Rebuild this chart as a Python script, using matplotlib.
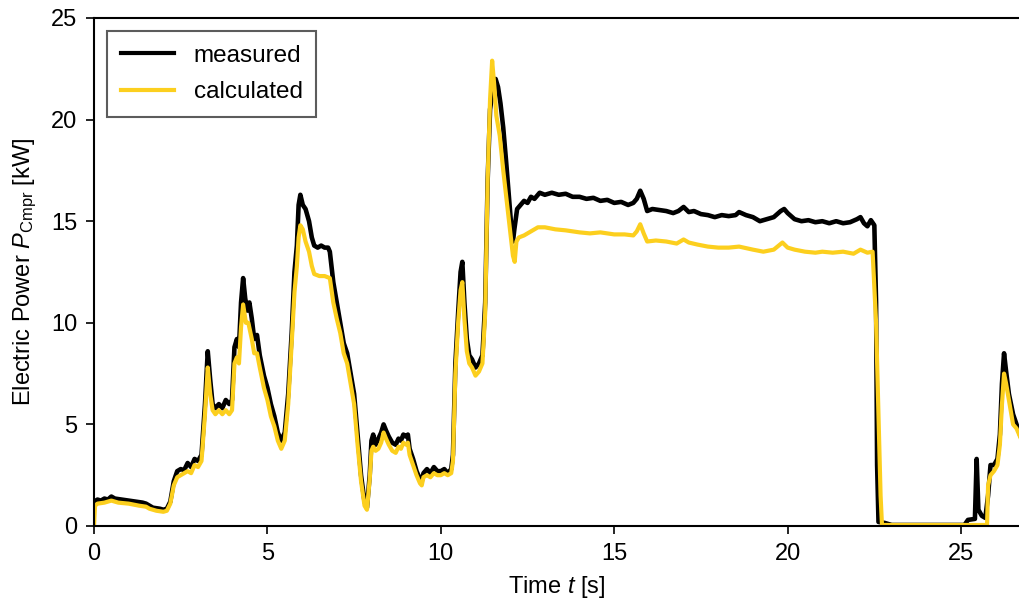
import matplotlib
matplotlib.use("Agg")
import matplotlib.pyplot as plt
import numpy as np

plt.rcParams['font.family'] = ['Liberation Sans', 'DejaVu Sans']
plt.rcParams['mathtext.fontset'] = 'custom'
plt.rcParams['mathtext.rm'] = 'Liberation Sans'
plt.rcParams['mathtext.it'] = 'Liberation Sans:italic'

# measured compressor power
t_meas = [0.0, 0.1, 0.2, 0.3, 0.4, 0.5, 0.6, 0.8, 1.0, 1.2, 1.4, 1.5, 1.6, 1.7, 1.9, 2.0,
          2.1, 2.2, 2.3, 2.4, 2.5, 2.6, 2.7, 2.8, 2.9, 3.0, 3.1, 3.2, 3.28, 3.35, 3.42, 3.5,
          3.6, 3.7, 3.8, 3.9, 3.98, 4.05, 4.12, 4.18, 4.24, 4.3, 4.36, 4.42, 4.48, 4.55, 4.62,
          4.7, 4.78, 4.9, 5.0, 5.1, 5.2, 5.3, 5.4, 5.5, 5.6, 5.7, 5.78, 5.85, 5.9, 5.95, 6.02,
          6.1, 6.2, 6.28, 6.35, 6.45, 6.55, 6.65, 6.75, 6.8, 6.9, 7.0, 7.1, 7.2, 7.3, 7.4, 7.5,
          7.6, 7.7, 7.8, 7.87, 7.95, 8.0, 8.05, 8.12, 8.2, 8.28, 8.35, 8.42, 8.5, 8.6, 8.7,
          8.78, 8.85, 8.92, 9.0, 9.05, 9.1, 9.2, 9.3, 9.4, 9.45, 9.5, 9.6, 9.7, 9.8, 9.9, 10.0,
          10.1, 10.2, 10.3, 10.35, 10.42, 10.5, 10.57, 10.62, 10.68, 10.75, 10.82, 10.9, 11.0,
          11.1, 11.2, 11.28, 11.35, 11.42, 11.5, 11.58, 11.65, 11.72, 11.8, 11.88, 11.95,
          12.02, 12.08, 12.12, 12.2, 12.3, 12.4, 12.5, 12.6, 12.7, 12.85, 13.0, 13.2, 13.4,
          13.6, 13.8, 14.0, 14.2, 14.4, 14.6, 14.8, 15.0, 15.2, 15.4, 15.55, 15.65, 15.75,
          15.85, 15.95, 16.1, 16.3, 16.5, 16.7, 16.85, 17.0, 17.15, 17.3, 17.5, 17.7, 17.9,
          18.1, 18.3, 18.5, 18.6, 18.8, 19.0, 19.2, 19.4, 19.6, 19.8, 19.9, 20.0, 20.2, 20.4,
          20.6, 20.8, 21.0, 21.2, 21.4, 21.6, 21.8, 22.0, 22.1, 22.2, 22.3, 22.4, 22.5, 22.55,
          22.58, 22.62, 22.8, 23.0, 24.0, 25.1, 25.2, 25.4, 25.45, 25.5, 25.6, 25.7, 25.78,
          25.85, 25.95, 26.05, 26.12, 26.18, 26.24, 26.3, 26.38, 26.5, 26.6, 26.7]
p_meas = [1.2, 1.3, 1.25, 1.35, 1.3, 1.45, 1.35, 1.3, 1.25, 1.2, 1.15, 1.1, 1.0, 0.9, 0.85, 0.8,
          0.85, 1.2, 2.2, 2.7, 2.8, 2.75, 3.1, 2.9, 3.3, 3.2, 3.5, 6.0, 8.6, 7.2, 6.0, 5.8,
          6.0, 5.8, 6.2, 6.0, 6.2, 8.8, 9.2, 8.8, 11.0, 12.2, 11.2, 10.6, 11.0, 10.2, 9.2,
          9.4, 8.4, 7.4, 6.8, 6.0, 5.4, 4.6, 4.2, 4.6, 6.5, 9.5, 12.5, 13.8, 15.8, 16.3, 15.8,
          15.6, 15.0, 14.2, 13.8, 13.7, 13.8, 13.7, 13.7, 13.5, 12.0, 11.0, 10.0, 9.0, 8.5, 7.5, 6.5,
          4.5, 2.5, 1.2, 0.9, 2.5, 4.2, 4.5, 4.0, 4.3, 4.6, 5.0, 4.7, 4.4, 4.1, 4.0,
          4.3, 4.2, 4.5, 4.4, 4.5, 3.8, 3.3, 2.7, 2.3, 2.2, 2.6, 2.8, 2.6, 2.9, 2.7, 2.7,
          2.8, 2.6, 2.8, 3.5, 8.0, 10.5, 12.5, 13.0, 11.0, 9.2, 8.4, 8.2, 7.8,
          8.0, 8.4, 11.0, 17.0, 20.5, 21.5, 22.0, 21.6, 20.8, 19.6, 18.0, 16.5,
          15.0, 14.0, 14.6, 15.6, 15.8, 16.0, 15.9, 16.2, 16.1, 16.4, 16.3, 16.4, 16.3,
          16.35, 16.2, 16.2, 16.1, 16.15, 16.0, 16.05, 15.9, 15.95, 15.8, 15.9, 16.1, 16.5,
          16.1, 15.5, 15.6, 15.55, 15.5, 15.4, 15.5, 15.7, 15.45, 15.5, 15.35, 15.3, 15.2,
          15.3, 15.25, 15.3, 15.45, 15.3, 15.2, 15.0, 15.1, 15.2, 15.5, 15.6, 15.4, 15.1, 15.0,
          15.05, 14.95, 15.0, 14.9, 15.0, 14.9, 14.95, 15.1, 15.2, 14.9, 14.75, 15.05, 14.8, 11.0,
          3.0, 0.2, 0.15, 0.05, 0.05, 0.05, 0.3, 0.35, 3.3, 0.8, 0.5, 0.4, 1.5,
          3.0, 3.0, 3.3, 4.5, 7.0, 8.5, 7.6, 6.5, 5.5, 5.0, 4.5]

# calculated compressor power
t_calc = [0.0, 0.03, 0.1, 0.3, 0.5, 0.7, 1.0, 1.3, 1.5, 1.6, 1.8, 2.0, 2.1, 2.2, 2.3, 2.4,
          2.5, 2.6, 2.7, 2.8, 2.9, 3.0, 3.1, 3.2, 3.28, 3.35, 3.42, 3.5, 3.6, 3.7, 3.8, 3.9,
          3.98, 4.05, 4.12, 4.18, 4.24, 4.3, 4.38, 4.45, 4.55, 4.62, 4.7, 4.78, 4.9, 5.0, 5.1,
          5.2, 5.3, 5.4, 5.5, 5.6, 5.7, 5.78, 5.85, 5.9, 5.95, 6.02, 6.1, 6.2, 6.28, 6.35, 6.5,
          6.65, 6.8, 6.9, 7.0, 7.1, 7.2, 7.3, 7.4, 7.5, 7.6, 7.7, 7.8, 7.87, 7.95, 8.0, 8.05,
          8.12, 8.2, 8.28, 8.35, 8.42, 8.5, 8.6, 8.7, 8.78, 8.85, 8.92, 9.0, 9.05, 9.1, 9.2,
          9.3, 9.4, 9.45, 9.5, 9.6, 9.7, 9.8, 9.9, 10.0, 10.1, 10.2, 10.3, 10.35, 10.42, 10.5,
          10.57, 10.62, 10.68, 10.75, 10.82, 10.9, 11.0, 11.1, 11.2, 11.28, 11.35, 11.42,
          11.48, 11.55, 11.6, 11.7, 11.8, 11.9, 12.0, 12.08, 12.13, 12.18, 12.25, 12.4, 12.6,
          12.8, 13.0, 13.3, 13.6, 14.0, 14.3, 14.6, 15.0, 15.3, 15.55, 15.65, 15.75, 15.85,
          15.95, 16.2, 16.5, 16.8, 17.0, 17.15, 17.4, 17.7, 18.0, 18.3, 18.6, 19.0, 19.3, 19.6,
          19.85, 20.0, 20.2, 20.5, 20.8, 21.0, 21.3, 21.6, 21.9, 22.1, 22.3, 22.45, 22.55,
          22.62, 22.68, 22.72, 24.0, 25.75, 25.78, 25.85, 25.95, 26.05, 26.12, 26.18, 26.24,
          26.3, 26.4, 26.5, 26.6, 26.7]
p_calc = [0.0, 1.0, 1.1, 1.15, 1.25, 1.15, 1.1, 1.0, 0.95, 0.85, 0.75, 0.7, 0.75, 1.1, 2.0, 2.4,
          2.5, 2.6, 2.7, 2.6, 3.0, 2.9, 3.2, 5.5, 7.8, 6.5, 5.7, 5.5, 5.7, 5.5, 5.7, 5.5,
          5.7, 8.0, 8.3, 8.0, 9.8, 10.9, 10.0, 10.0, 9.2, 8.5, 8.5, 7.8, 6.8, 6.2, 5.4,
          4.9, 4.2, 3.8, 4.2, 6.0, 9.0, 11.5, 12.8, 14.2, 14.8, 14.6, 14.0, 13.5, 12.8, 12.4, 12.3,
          12.3, 12.2, 11.0, 10.2, 9.5, 8.5, 8.0, 7.0, 6.0, 4.0, 2.2, 1.0, 0.8, 2.3, 3.7, 3.9,
          3.7, 3.8, 4.1, 4.6, 4.3, 4.0, 3.7, 3.6, 3.9, 3.8, 4.1, 4.0, 4.1, 3.5, 3.0,
          2.5, 2.1, 2.0, 2.4, 2.5, 2.4, 2.6, 2.5, 2.5, 2.6, 2.5, 2.6, 3.2, 7.5, 10.0,
          11.6, 12.0, 10.2, 8.6, 8.0, 7.8, 7.4, 7.6, 8.0, 10.5, 17.0, 21.0,
          22.9, 21.5, 20.2, 19.2, 17.5, 16.0, 14.5, 13.3, 13.0, 14.0, 14.2, 14.3, 14.5,
          14.7, 14.7, 14.6, 14.55, 14.45, 14.4, 14.45, 14.35, 14.35, 14.3, 14.5, 14.85, 14.4,
          14.0, 14.05, 14.0, 13.9, 14.1, 13.95, 13.85, 13.75, 13.7, 13.7, 13.75, 13.6, 13.5, 13.6,
          13.95, 13.7, 13.6, 13.5, 13.45, 13.5, 13.45, 13.5, 13.4, 13.6, 13.45, 13.5, 10.0,
          5.5, 1.5, 0.05, 0.05, 0.05, 2.0, 2.5, 2.7, 3.0, 4.0, 6.0, 7.5,
          7.0, 6.0, 5.0, 4.8, 4.4]

fig = plt.figure(figsize=(10.2, 6.01), dpi=100)
ax = fig.add_axes([94 / 1020, 75 / 601, 926 / 1020, 508 / 601])

ax.plot(t_meas, p_meas, color='black', lw=3.3, label='measured')
ax.plot(t_calc, p_calc, color='#FCCF1E', lw=3.0, label='calculated')

ax.set_xlim(0, 26.7)
ax.set_ylim(0, 25)
ax.set_xticks(np.arange(0, 26, 5))
ax.set_yticks(np.arange(0, 26, 5))

ax.spines['right'].set_visible(False)
for s in ['left', 'bottom', 'top']:
    ax.spines[s].set_linewidth(1.5)
ax.tick_params(direction='out', length=6, width=1.2, pad=6, labelsize=17,
               top=False, right=False)

ax.set_xlabel('Time $t$ [s]', fontsize=17, labelpad=7)
ax.set_ylabel('Electric Power $P_{\\mathrm{Cmpr}}$ [kW]', fontsize=17, labelpad=9)

leg = ax.legend(loc='upper left', fontsize=17.5, frameon=True, fancybox=False,
                handlelength=2.2, handletextpad=0.8, borderaxespad=0.55,
                borderpad=0.55, labelspacing=0.6)
leg.get_frame().set_edgecolor('#333333')
leg.get_frame().set_linewidth(1.5)
for line in leg.get_lines():
    line.set_linewidth(3.0)

fig.savefig('out.png', dpi=100)
